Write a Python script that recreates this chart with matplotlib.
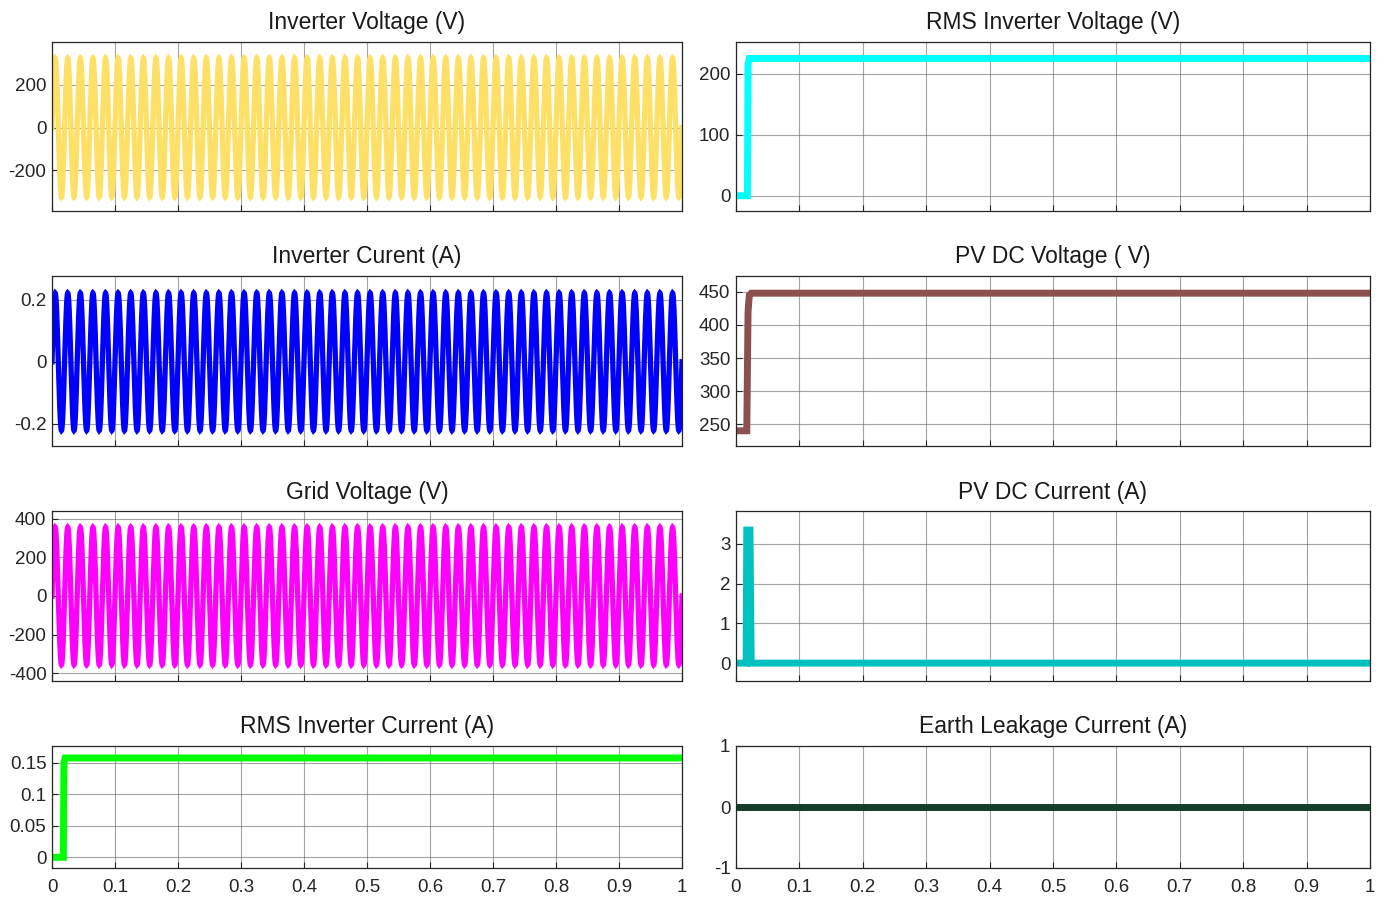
"""
Inverter / PV simulation scope traces, 4x2 grid in MATLAB scope style
"""

import numpy as np
import matplotlib.pyplot as plt

plt.rcParams['font.family'] = ['Liberation Sans', 'DejaVu Sans']
plt.rcParams['font.size'] = 13.5
plt.rcParams['axes.unicode_minus'] = False

# ---- data ----
freq_hz = 50                # 5 cycles per 0.1 s
inv_v_peak = 325            # V
inv_i_peak = 0.222          # A
grid_v_peak = 356           # V

# step-type traces: (time, value) breakpoints
rms_v_t = [0, 0.018, 0.019, 0.021, 1.0]
rms_v = [0, 0, 215, 225, 225]

pv_v_t = [0, 0.017, 0.019, 0.021, 0.024, 1.0]
pv_v = [240, 240, 420, 445, 448, 448]

pv_i_t = [0, 0.016, 0.017, 0.022, 0.024, 1.0]
pv_i = [0, 0, 3.35, 3.35, 0, 0]

rms_i_t = [0, 0.018, 0.019, 0.021, 1.0]
rms_i = [0, 0, 0.15, 0.158, 0.158]

leak_t = [0, 1.0]
leak_i = [0, 0]

t = np.linspace(0, 1, 20001)
inv_v = inv_v_peak * np.sin(2 * np.pi * freq_hz * t)
inv_i = inv_i_peak * np.sin(2 * np.pi * freq_hz * t)
grid_v = grid_v_peak * np.sin(2 * np.pi * freq_hz * t)

W, H = 1384, 902
fig = plt.figure(figsize=(W / 100, H / 100), dpi=100)

# axes boxes in pixels: (left, top, right, bottom)
cols = [(52, 682), (736, 1370)]
rows = [(42, 211), (276, 446), (511, 681), (746, 868)]


def make_ax(r, c):
    x0, x1 = cols[c]
    y0, y1 = rows[r]
    return fig.add_axes([x0 / W, 1 - y1 / H, (x1 - x0) / W, (y1 - y0) / H])


panels = [
    # row, col, title, x, y, color, lw, ylim, yticks, yticklabels
    (0, 0, 'Inverter Voltage (V)', t, inv_v, '#FFE066', 3.8, (-390, 400), [-200, 0, 200], None),
    (1, 0, 'Inverter Curent (A)', t, inv_i, '#0000FF', 3.8, (-0.272, 0.277), [-0.2, 0, 0.2], ['-0.2', '0', '0.2']),
    (2, 0, 'Grid Voltage (V)', t, grid_v, '#FF00FF', 3.8, (-440, 440), [-400, -200, 0, 200, 400], None),
    (3, 0, 'RMS Inverter Current (A)', rms_i_t, rms_i, '#00FF00', 5.0, (-0.017, 0.177), [0, 0.05, 0.1, 0.15],
     ['0', '0.05', '0.1', '0.15']),
    (0, 1, 'RMS Inverter Voltage (V)', rms_v_t, rms_v, '#00FFFF', 5.0, (-25, 252), [0, 100, 200], None),
    (1, 1, 'PV DC Voltage ( V)', pv_v_t, pv_v, '#8C5050', 5.0, (217, 474), [250, 300, 350, 400, 450], None),
    (2, 1, 'PV DC Current (A)', pv_i_t, pv_i, '#00C0C0', 5.0, (-0.45, 3.83), [0, 1, 2, 3], None),
    (3, 1, 'Earth Leakage Current (A)', leak_t, leak_i, '#153D2A', 5.0, (-1, 1), [-1, 0, 1], None),
]

xticks = np.round(np.arange(0, 1.01, 0.1), 1)
xticklabels = ['0'] + [f'{v:g}' for v in xticks[1:-1]] + ['1']

for r, c, title, x, y, color, lw, ylim, yticks, ylabels in panels:
    ax = make_ax(r, c)
    ax.plot(x, y, color=color, linewidth=lw, solid_joinstyle='miter')
    ax.set_xlim(0, 1)
    ax.set_ylim(*ylim)
    ax.set_xticks(xticks)
    if r == 3:
        ax.set_xticklabels(xticklabels)
    else:
        ax.set_xticklabels([])
    ax.set_yticks(yticks)
    if ylabels is not None:
        ax.set_yticklabels(ylabels)
    ax.set_title(title, fontsize=16.5, pad=9, color='#1a1a1a')
    ax.grid(True, color='#5a5a5a', linewidth=0.8, alpha=0.55)
    ax.set_axisbelow(True)
    ax.tick_params(direction='in', length=4, width=0.8, colors='#262626',
                   labelcolor='#262626', pad=4)
    ax.tick_params(axis='x', pad=8)
    for s in ax.spines.values():
        s.set_color('#262626')
        s.set_linewidth(0.9)

plt.savefig('out.png', dpi=100)
plt.close()
